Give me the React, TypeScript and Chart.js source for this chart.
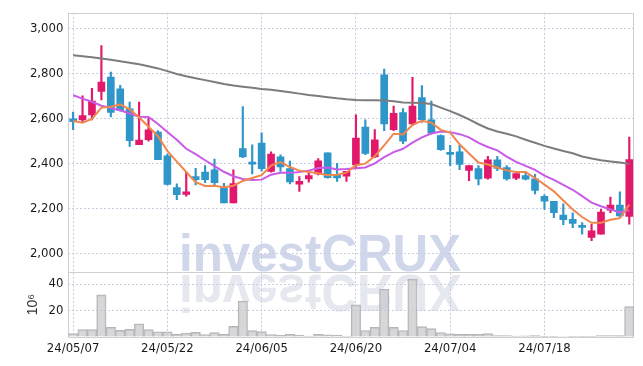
import React, { useEffect, useRef } from 'react';
import { Chart, registerables } from 'chart.js';
Chart.register(...registerables);

const DATES = [
  '24/05/07', '24/05/08', '24/05/09', '24/05/10', '24/05/13', '24/05/14', '24/05/16', '24/05/17', '24/05/20', '24/05/21',
  '24/05/22', '24/05/23', '24/05/24', '24/05/27', '24/05/28', '24/05/29', '24/05/30', '24/05/31', '24/06/03', '24/06/04',
  '24/06/05', '24/06/07', '24/06/10', '24/06/11', '24/06/12', '24/06/13', '24/06/14', '24/06/17', '24/06/18', '24/06/19',
  '24/06/20', '24/06/21', '24/06/24', '24/06/25', '24/06/26', '24/06/27', '24/06/28', '24/07/01', '24/07/02', '24/07/03',
  '24/07/04', '24/07/05', '24/07/08', '24/07/09', '24/07/10', '24/07/11', '24/07/12', '24/07/15', '24/07/16', '24/07/17',
  '24/07/18', '24/07/19', '24/07/22', '24/07/23', '24/07/24', '24/07/25', '24/07/26', '24/07/29', '24/07/30', '24/07/31',
];

const OPEN = [
  2598, 2593, 2615, 2720, 2784, 2731, 2642, 2483, 2505, 2539,
  2434, 2293, 2262, 2342, 2361, 2372, 2290, 2225, 2466, 2403,
  2490, 2365, 2429, 2377, 2308, 2331, 2353, 2447, 2349, 2343,
  2393, 2561, 2429, 2794, 2550, 2626, 2575, 2692, 2594, 2524,
  2445, 2451, 2369, 2377, 2334, 2416, 2381, 2334, 2346, 2331,
  2254, 2232, 2171, 2152, 2118, 2071, 2086, 2192, 2215, 2165,
];
const HIGH = [
  2628, 2700, 2734, 2923, 2806, 2747, 2673, 2673, 2604, 2546,
  2441, 2309, 2362, 2378, 2390, 2419, 2312, 2371, 2653, 2483,
  2536, 2451, 2438, 2410, 2342, 2356, 2422, 2447, 2400, 2365,
  2616, 2594, 2550, 2819, 2655, 2644, 2782, 2746, 2677, 2527,
  2480, 2480, 2390, 2390, 2432, 2431, 2390, 2355, 2363, 2352,
  2261, 2232, 2220, 2181, 2137, 2130, 2196, 2250, 2274, 2517,
];
const LOW = [
  2550, 2582, 2593, 2682, 2607, 2632, 2476, 2483, 2499, 2417,
  2305, 2239, 2254, 2305, 2314, 2298, 2225, 2225, 2425, 2353,
  2366, 2361, 2365, 2309, 2276, 2317, 2349, 2334, 2320, 2320,
  2378, 2439, 2426, 2546, 2546, 2488, 2568, 2582, 2531, 2458,
  2390, 2372, 2323, 2305, 2330, 2368, 2326, 2328, 2327, 2264,
  2196, 2159, 2128, 2115, 2086, 2057, 2086, 2181, 2162, 2130,
];
const CLOSE = [
  2585, 2612, 2677, 2761, 2626, 2635, 2501, 2504, 2549, 2417,
  2307, 2261, 2274, 2328, 2328, 2315, 2225, 2311, 2429, 2397,
  2377, 2442, 2384, 2318, 2320, 2346, 2412, 2337, 2336, 2365,
  2512, 2444, 2505, 2575, 2622, 2499, 2655, 2594, 2534, 2461,
  2440, 2396, 2390, 2331, 2416, 2378, 2331, 2355, 2330, 2280,
  2232, 2181, 2150, 2133, 2116, 2101, 2184, 2215, 2167, 2417,
];
const VOLUME = [
  2.5, 5.6, 5.6, 31.8, 7.3, 5.0, 5.8, 10.0, 5.6, 4.0,
  4.0, 2.0, 3.0, 3.5, 1.9, 3.3, 2.0, 8.0, 27.2, 4.8,
  4.1, 1.9, 1.4, 2.0, 1.5, 0.7, 2.0, 1.7, 1.5, 0.7,
  24.3, 4.9, 7.3, 36.2, 7.3, 4.9, 43.7, 7.8, 6.3, 3.4,
  2.4, 2.0, 2.0, 2.0, 2.6, 1.1, 1.1, 0.7, 0.8, 1.0,
  0.6, 0.6, 0.4, 0.6, 0.6, 0.5, 1.1, 1.1, 1.0, 23.0,
];
const MA5 = [
  2588, 2581, 2598, 2648, 2652, 2662, 2640, 2605, 2563, 2521,
  2456, 2408, 2362, 2317, 2300, 2301, 2294, 2301, 2322, 2335,
  2348, 2391, 2406, 2384, 2368, 2362, 2356, 2347, 2350, 2359,
  2392, 2399, 2432, 2480, 2532, 2529, 2571, 2589, 2581, 2549,
  2537, 2485, 2444, 2404, 2395, 2382, 2369, 2362, 2362, 2335,
  2306, 2276, 2235, 2195, 2162, 2136, 2137, 2150, 2157, 2217,
];
const MA20 = [
  2703, 2688, 2674, 2656, 2646, 2636, 2622, 2607, 2606, 2575,
  2540, 2505, 2465, 2441, 2414, 2388, 2363, 2343, 2331, 2326,
  2328, 2350, 2358, 2358, 2362, 2368, 2380, 2382, 2373, 2375,
  2379, 2382, 2400, 2428, 2450, 2465, 2492, 2516, 2533, 2542,
  2539, 2530, 2516, 2491, 2473, 2458, 2430, 2407, 2389, 2371,
  2346, 2327, 2305, 2283, 2255, 2226, 2210, 2196, 2182, 2192,
];
const MA60 = [
  2880, 2876, 2872, 2866, 2860, 2854, 2847, 2840, 2832, 2822,
  2810, 2797, 2787, 2778, 2770, 2762, 2753, 2746, 2741, 2736,
  2731, 2727, 2722, 2716, 2710, 2704, 2699, 2694, 2689, 2685,
  2682, 2681, 2681, 2680, 2676, 2671, 2670, 2668, 2664, 2648,
  2632, 2615, 2596, 2574, 2555, 2542, 2532, 2520, 2505, 2492,
  2478, 2466, 2455, 2445, 2431, 2422, 2414, 2409, 2404, 2398,
];
const PRICE_TICKS = [2000, 2200, 2400, 2600, 2800, 3000];
const VOLUME_TICKS = [20, 40];
const WATERMARK = 'investCRUX';
const VOLUME_UNIT = '10\u2076';

export default function App() {
  const ref = useRef<HTMLCanvasElement>(null);

  useEffect(() => {
    const canvas = ref.current!;
    const up = '#e2196b';
    const down = '#2e96c8';
    const colors = CLOSE.map((c, i) => (c >= OPEN[i] ? up : down));
    const tickFont = { family: "'DejaVu Sans Condensed', 'DejaVu Sans', sans-serif", size: 13 };
    const gridColor = '#c9cde0';

    const decor = {
      id: 'decor',
      beforeDraw(chart: any) {
        const { ctx, scales } = chart;
        const base = scales.yv.top;
        ctx.save();
        ctx.font = "bold 52px 'Liberation Sans', Arial, sans-serif";
        ctx.textBaseline = 'alphabetic';
        ctx.textAlign = 'left';
        ctx.fillStyle = '#d1d7ea';
        ctx.fillText(WATERMARK, 179, base - 1, 282);
        ctx.translate(0, 2 * base + 2);
        ctx.scale(1, -1);
        ctx.fillStyle = '#e6e8f0';
        ctx.fillText(WATERMARK, 179, base - 1, 282);
        ctx.restore();
      },
      beforeDatasetsDraw(chart: any) {
        const { ctx, chartArea: a, scales } = chart;
        ctx.save();
        ctx.strokeStyle = '#cfcfcf';
        ctx.lineWidth = 1;
        ctx.strokeRect(Math.round(a.left) + 0.5, Math.round(a.top) + 0.5, Math.round(a.right - a.left) - 1, Math.round(a.bottom - a.top));
        const sy = Math.round(scales.yv.top) + 0.5;
        ctx.beginPath();
        ctx.moveTo(a.left, sy);
        ctx.lineTo(a.right, sy);
        ctx.stroke();
        ctx.restore();
      },
    };

    const chart = new Chart(canvas, {
      type: 'bar',
      data: {
        labels: DATES,
        datasets: [
          { type: 'line', data: MA5, yAxisID: 'y', borderColor: '#f0874c', borderWidth: 2, pointRadius: 0, order: 0 } as any,
          { type: 'line', data: MA20, yAxisID: 'y', borderColor: '#c95be9', borderWidth: 2, pointRadius: 0, order: 1 } as any,
          { type: 'line', data: MA60, yAxisID: 'y', borderColor: '#7c7c7c', borderWidth: 2, pointRadius: 0, order: 2 } as any,
          {
            type: 'bar', data: OPEN.map((o, i) => [o, CLOSE[i]]), yAxisID: 'y', grouped: false,
            barThickness: 7, backgroundColor: colors, borderWidth: 0, minBarLength: 2, order: 3,
          } as any,
          {
            type: 'bar', data: LOW.map((l, i) => [l, HIGH[i]]), yAxisID: 'y', grouped: false,
            barThickness: 1.5, backgroundColor: colors, borderWidth: 0, order: 4,
          } as any,
          {
            type: 'bar', data: VOLUME, yAxisID: 'yv', grouped: false,
            barPercentage: 1, categoryPercentage: 1,
            backgroundColor: 'rgba(200,200,204,0.72)', borderColor: '#b5b5b9', borderWidth: 1, order: 5,
          } as any,
        ],
      },
      options: {
        responsive: false,
        animation: false,
        devicePixelRatio: 1,
        events: [],
        layout: { padding: { top: 9, right: 9, left: 0, bottom: 0 } },
        plugins: { legend: { display: false }, tooltip: { enabled: false } },
        scales: {
          x: {
            type: 'category',
            offset: true,
            grid: {
              offset: false,
              drawTicks: false,
              color: (c: any) => (c.index % 10 === 0 ? gridColor : 'transparent'),
            },
            border: { display: false, dash: [2, 2] },
            ticks: {
              autoSkip: false,
              maxRotation: 0,
              minRotation: 0,
              padding: 4,
              color: '#1a1a1a',
              font: tickFont,
              callback: (_v: any, i: number) => (i % 10 === 0 ? DATES[i] : ''),
            },
            afterFit: (s: any) => { s.height = 29; },
          },
          yv: {
            type: 'linear',
            position: 'left',
            stack: 'panes',
            stackWeight: 1,
            min: 0,
            max: 49,
            grid: { color: (c: any) => (VOLUME_TICKS.includes(c.tick?.value) ? gridColor : 'transparent'), drawTicks: false },
            border: { display: false, dash: [2, 2] },
            title: {
              display: true,
              text: VOLUME_UNIT,
              color: '#333',
              font: { family: "'Liberation Sans', sans-serif", size: 14 },
              padding: { top: 24.5, bottom: 0 },
            },
            ticks: {
              stepSize: 20,
              autoSkip: false,
              includeBounds: false,
              padding: 5,
              color: '#1a1a1a',
              font: tickFont,
              callback: (v: any) => (VOLUME_TICKS.includes(v) ? String(v) : ''),
            },
            afterFit: (s: any) => { s.width = 68.4; },
          },
          y: {
            type: 'linear',
            position: 'left',
            stack: 'panes',
            stackWeight: 4,
            min: 1917,
            max: 3069,
            grid: { color: gridColor, drawTicks: false },
            border: { display: false, dash: [2, 2] },
            ticks: {
              stepSize: 200,
              autoSkip: false,
              includeBounds: false,
              padding: 5,
              color: '#1a1a1a',
              font: tickFont,
              callback: (v: any) => (PRICE_TICKS.includes(v) ? Number(v).toLocaleString('en-US') : ''),
            },
            afterFit: (s: any) => { s.width = 68.4; },
          },
        },
      } as any,
      plugins: [decor],
    });
    return () => chart.destroy();
  }, []);

  return (
    <div style={{ position: 'fixed', left: 0, top: 0, width: 643, height: 366, background: '#fff' }}>
      <canvas ref={ref} width={643} height={366} style={{ display: 'block' }} />
    </div>
  );
}
